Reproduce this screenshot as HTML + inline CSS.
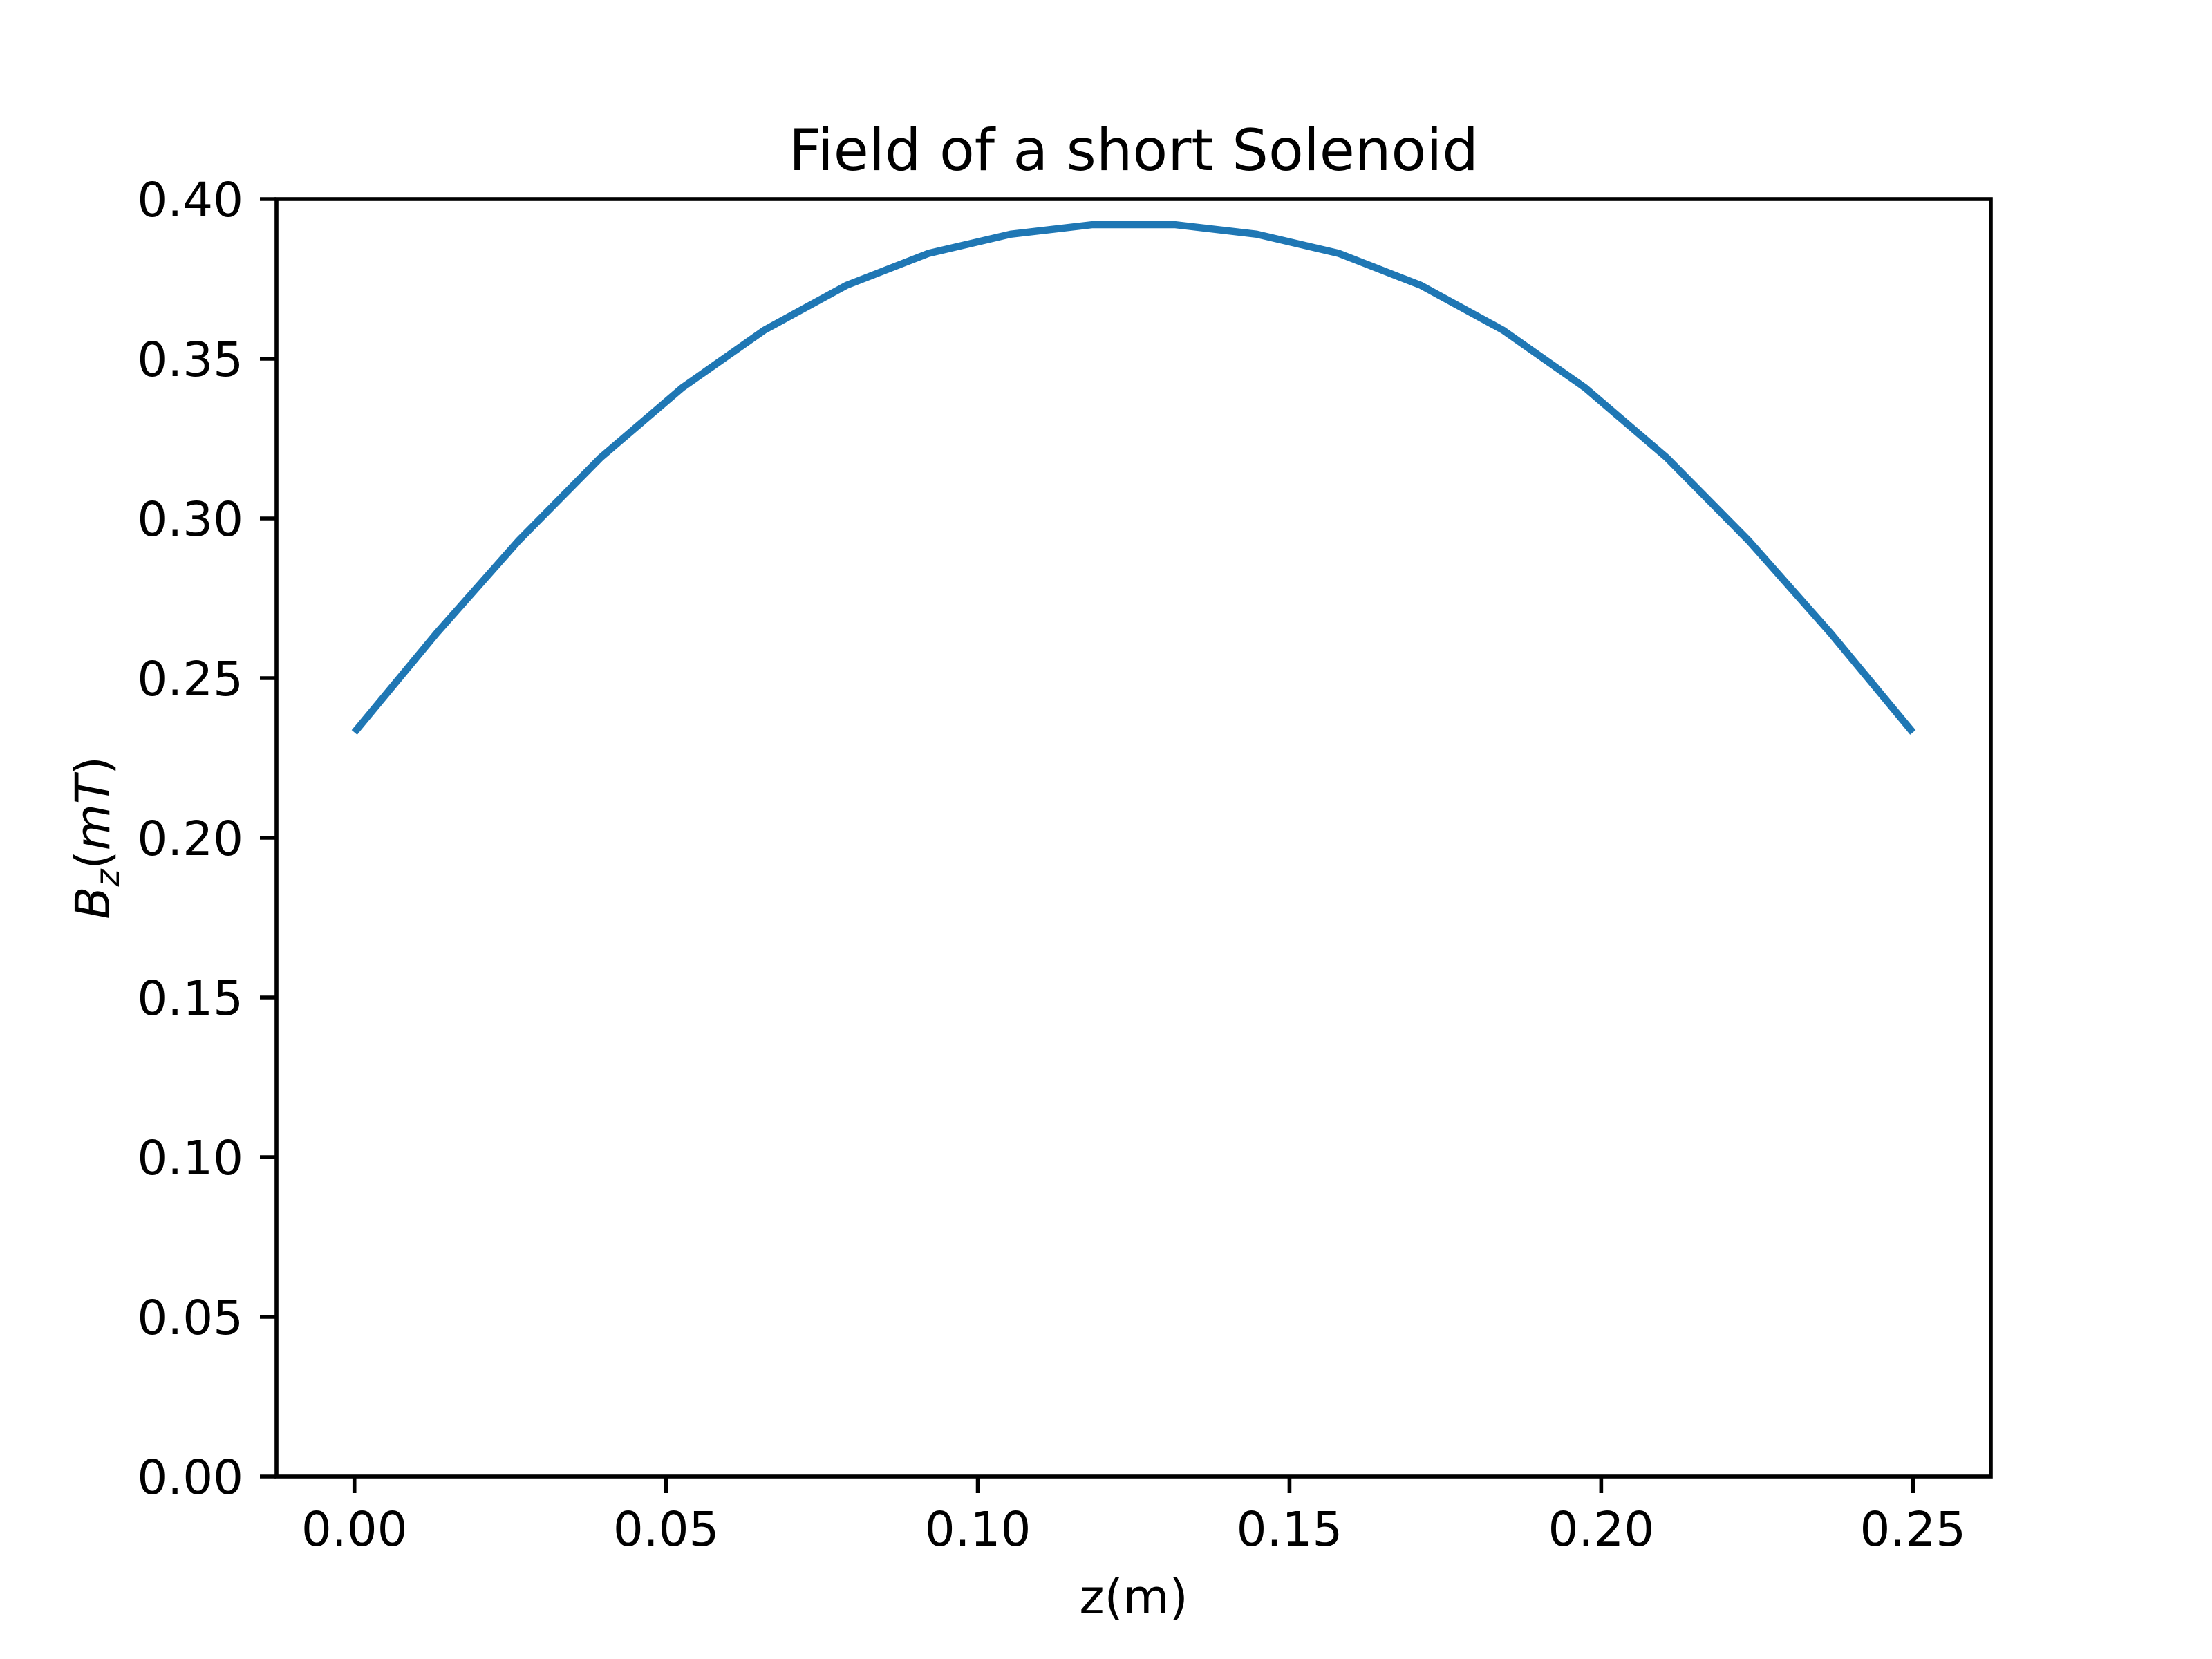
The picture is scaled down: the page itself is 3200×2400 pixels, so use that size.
<!DOCTYPE html>
<html><head><meta charset="utf-8"><style>
html,body{margin:0;padding:0;background:#fff;}
svg{display:block;font-family:"DejaVu Sans","Liberation Sans",sans-serif;}
</style></head><body>
<svg id="chart" width="3200" height="2400" viewBox="0 0 3200 2400" xmlns="http://www.w3.org/2000/svg">
<rect width="3200" height="2400" fill="#fff"/>
<text x="1640" y="246" font-size="83" text-anchor="middle" fill="#000">Field of a short Solenoid</text>
<g id="ticks"></g>
<path id="series" fill="none" stroke="#1f77b4" stroke-width="10.4" stroke-linejoin="round"/>
<rect x="400" y="288" width="2480" height="1848" fill="none" stroke="#000" stroke-width="5.6"/>
<text x="1640" y="2334" font-size="69" text-anchor="middle" fill="#000">z(m)</text>
<text transform="translate(158,1212) rotate(-90)" font-size="69" text-anchor="middle" fill="#000"><tspan font-style="italic">B</tspan><tspan font-style="italic" font-size="48" dy="14">z</tspan><tspan dy="-14">(</tspan><tspan font-style="italic">mT</tspan><tspan>)</tspan></text>
</svg>
<script>
const zValues = [0,0.01316,0.02632,0.03947,0.05263,0.06579,0.07895,0.09211,0.10526,0.11842,0.13158,0.14474,0.15789,0.17105,0.18421,0.19737,0.21053,0.22368,0.23684,0.25];
const bzValues = [0.233,0.264,0.293,0.319,0.341,0.359,0.373,0.383,0.389,0.392,0.392,0.389,0.383,0.373,0.359,0.341,0.319,0.293,0.264,0.233];
const xTickValues = [0,0.05,0.10,0.15,0.20,0.25];
const xTickLabels = ["0.00","0.05","0.10","0.15","0.20","0.25"];
const yTickValues = [0,0.05,0.10,0.15,0.20,0.25,0.30,0.35,0.40];
const yTickLabels = ["0.00","0.05","0.10","0.15","0.20","0.25","0.30","0.35","0.40"];

const L=400,R=2880,T=288,B=2136;
const xmin=-0.0125,xmax=0.2625,ymin=0,ymax=0.4;
const xs=v=>L+(v-xmin)/(xmax-xmin)*(R-L);
const ys=v=>B-(v-ymin)/(ymax-ymin)*(B-T);
const NS="http://www.w3.org/2000/svg";
const g=document.getElementById('ticks');

xTickValues.forEach((v,i)=>{
  const ln=document.createElementNS(NS,'line');
  
  
  ln.setAttribute('x1',xs(v));ln.setAttribute('x2',xs(v));
  ln.setAttribute('y1',B);ln.setAttribute('y2',B+24);
  ln.setAttribute('stroke','#000');ln.setAttribute('stroke-width','5.6');
  g.appendChild(ln);
  const t=document.createElementNS(NS,'text');
  
  
  t.setAttribute('x',xs(v));t.setAttribute('y',B+24+24+52);
  t.setAttribute('font-size','69');t.setAttribute('text-anchor','middle');
  t.textContent=xTickLabels[i];
  g.appendChild(t);
});
yTickValues.forEach((v,i)=>{
  const ln=document.createElementNS(NS,'line');
  
  
  ln.setAttribute('x1',L-24);ln.setAttribute('x2',L);
  ln.setAttribute('y1',ys(v));ln.setAttribute('y2',ys(v));
  ln.setAttribute('stroke','#000');ln.setAttribute('stroke-width','5.6');
  g.appendChild(ln);
  const t=document.createElementNS(NS,'text');
  
  
  t.setAttribute('x',L-48);t.setAttribute('y',ys(v)+25);
  t.setAttribute('font-size','69');t.setAttribute('text-anchor','end');
  t.textContent=yTickLabels[i];
  g.appendChild(t);
});
document.getElementById('series').setAttribute('d',
  zValues.map((z,i)=>(i?'L':'M')+xs(z).toFixed(1)+','+ys(bzValues[i]).toFixed(1)).join(' '));
</script>
</body></html>
